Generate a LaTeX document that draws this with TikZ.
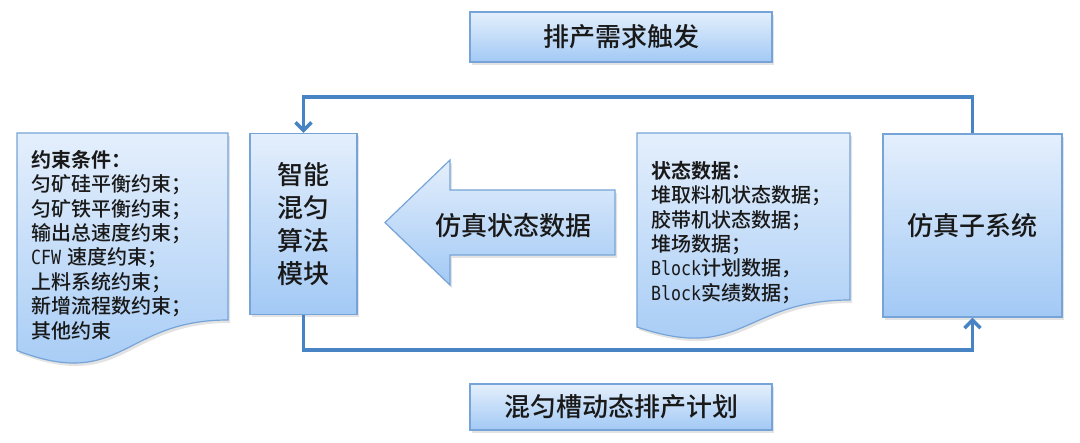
\documentclass[tikz,border=0pt]{standalone}
\usepackage{fontspec}
\setmainfont{Noto Sans CJK SC}[UprightFont=* Medium, BoldFont=* Bold]
\newfontfamily\latinmono{DejaVu Sans Mono}
\newcommand{\lm}[1]{\scalebox{0.85}[1]{\latinmono\fontsize{19.5}{24.4}\selectfont #1}}
\usetikzlibrary{arrows.meta,shadows}
\definecolor{boxtop}{RGB}{228,239,252}
\definecolor{boxbot}{RGB}{162,201,245}
\definecolor{boxline}{RGB}{118,164,216}
\definecolor{conncol}{RGB}{72,132,196}
\definecolor{txt}{RGB}{25,25,25}
\begin{document}
\begin{tikzpicture}[x=1pt,y=-1pt,
  bluebox/.style={draw=boxline, line width=1.2pt, top color=boxtop, bottom color=boxbot,
    drop shadow={opacity=0.22, shadow xshift=2pt, shadow yshift=-3pt},
    inner sep=0pt, text=txt},
  bigtext/.style={font=\fontsize{26}{33}\selectfont, text=txt},
  smalltext/.style={font=\fontsize{20}{24.4}\selectfont, text=txt, align=left, anchor=north west, inner sep=0pt},
  conn/.style={draw=conncol, line width=3.5pt, line join=miter},
  tip/.style={-{Straight Barb[length=8pt,width=16pt]}}]
\useasboundingbox (0,0) rectangle (1080,443);

% top and bottom boxes
\node[bluebox, bigtext, minimum width=302pt, minimum height=50pt] (trig) at (621,37) {排产需求触发};
\node[bluebox, bigtext, minimum width=302pt, minimum height=46pt] (plan) at (621,407) {混匀槽动态排产计划};

% left document
\path[bluebox] (17,133) -- (228,133) -- (228,320) .. controls (122.5,320) and (122.5,391) .. (17,350.6) -- cycle;
\node[smalltext] (cons) at (31,150) {\textbf{约束条件：}\\匀矿硅平衡约束；\\匀矿铁平衡约束；\\输出总速度约束；\\\lm{CFW}\hspace{6pt}速度约束；\\上料系统约束；\\新增流程数约束；\\其他约束};

% module
\node[bluebox, bigtext, align=center, minimum width=107pt, minimum height=181pt] (mod) at (303.5,224) {智能\\混匀\\算法\\模块};

% big arrow
\path[bluebox] (385,222.5) -- (450,160) -- (450,190) -- (615,190) -- (615,255) -- (450,255) -- (450,285) -- cycle;
\node[bigtext] (simdata) at (513,226) {仿真状态数据};

% right document
\path[bluebox] (637,133) -- (850,133) -- (850,300) .. controls (743.5,300) and (743.5,363) .. (637,327) -- cycle;
\node[smalltext] (state) at (651,161) {\textbf{状态数据：}\\堆取料机状态数据；\\胶带机状态数据；\\堆场数据；\\\lm{Block}计划数据，\\\lm{Block}实绩数据；};

% simulation subsystem
\node[bluebox, bigtext, minimum width=179pt, minimum height=183pt] (sim) at (972.5,225.5) {仿真子系统};

% connectors
\coordinate (tr) at (972.5,97);
\coordinate (tl) at (303.5,97);
\coordinate (bl) at (303.5,350);
\coordinate (br) at (972.5,350);
\draw[conn, tip] (sim.north) -- (tr) -- (tl) -- (mod.north);
\draw[conn, tip] (mod.south) -- (bl) -- (br) -- (sim.south);
\end{tikzpicture}
\end{document}
